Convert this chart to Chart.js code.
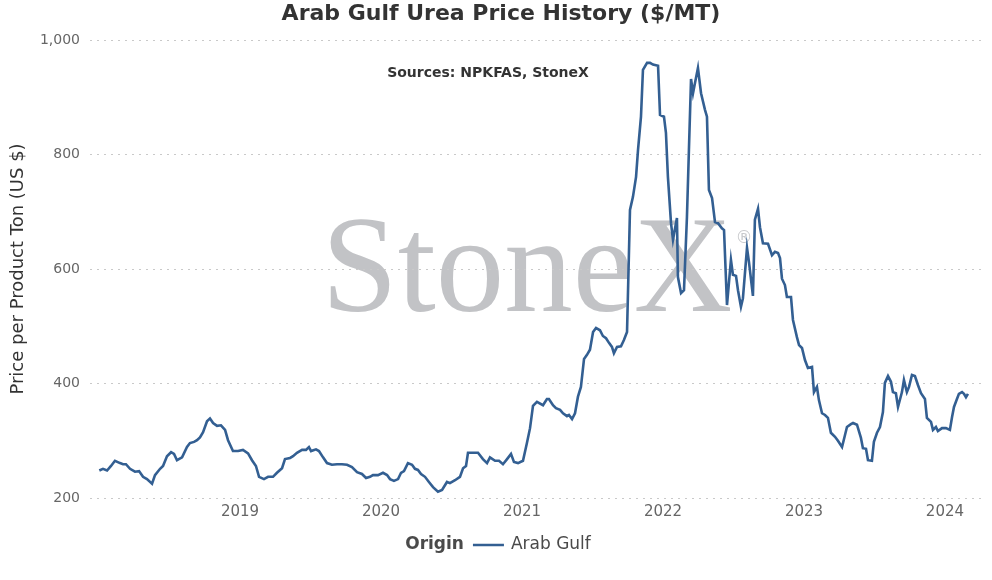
<!DOCTYPE html>
<html>
<head>
<meta charset="utf-8">
<script src="https://cdn.jsdelivr.net/npm/chart.js@4.4.1/dist/chart.umd.min.js"></script>
<style>
html,body{margin:0;padding:0;background:#fff;}
#wrap{width:992px;height:580px;position:relative;}
</style>
</head>
<body>
<div id="wrap"><canvas id="c" width="992" height="580" style="width:992px;height:580px"></canvas></div>
<script>
// Decimal-year dates of each observation
const dates = [
2018.002,2018.028,2018.057,2018.085,2018.113,2018.149,2018.170,2018.191,2018.220,2018.255,2018.284,2018.312,2018.340,2018.376,2018.397,2018.433,2018.454,2018.482,2018.511,2018.532,2018.553,2018.589,2018.624,2018.645,2018.674,2018.695,2018.716,2018.738,2018.766,2018.787,2018.809,2018.837,2018.865,2018.894,2018.915,2018.950,2018.986,
2019.021,2019.057,2019.085,2019.113,2019.135,2019.170,2019.199,2019.234,2019.262,2019.298,2019.319,2019.355,2019.376,2019.404,2019.440,2019.468,2019.489,2019.504,2019.539,2019.560,2019.589,2019.617,2019.652,2019.688,2019.723,2019.759,2019.794,2019.830,2019.865,2019.894,2019.922,2019.943,2019.979,
2020.014,2020.043,2020.064,2020.092,2020.121,2020.142,2020.163,2020.191,2020.220,2020.241,2020.262,2020.284,2020.312,2020.340,2020.369,2020.404,2020.433,2020.468,2020.489,2020.525,2020.560,2020.582,2020.603,2020.617,2020.652,2020.688,2020.723,2020.752,2020.773,2020.809,2020.837,2020.865,2020.894,2020.922,2020.943,2020.972,
2021.007,2021.035,2021.057,2021.078,2021.106,2021.149,2021.177,2021.191,2021.220,2021.241,2021.270,2021.291,2021.319,2021.333,2021.355,2021.376,2021.397,2021.418,2021.440,2021.461,2021.482,2021.504,2021.525,2021.553,2021.574,2021.596,2021.617,2021.638,2021.652,2021.674,2021.702,2021.723,2021.745,2021.766,2021.787,2021.809,2021.823,2021.844,2021.858,2021.887,2021.908,2021.929,2021.965,2021.979,
2022.007,2022.021,2022.035,2022.057,2022.071,2022.099,2022.106,2022.128,2022.149,2022.170,2022.184,2022.199,2022.213,2022.227,2022.248,2022.270,2022.298,2022.312,2022.326,2022.348,2022.369,2022.390,2022.418,2022.433,2022.454,2022.482,2022.496,2022.518,2022.532,2022.553,2022.567,2022.596,2022.610,2022.638,2022.652,2022.674,2022.688,2022.709,2022.745,2022.773,2022.794,2022.816,2022.830,2022.844,2022.865,2022.879,2022.908,2022.922,2022.950,2022.965,2022.986,
2023.007,2023.028,2023.057,2023.071,2023.092,2023.106,2023.128,2023.149,2023.170,2023.191,2023.220,2023.241,2023.270,2023.291,2023.305,2023.333,2023.348,2023.376,2023.404,2023.418,2023.440,2023.454,2023.482,2023.496,2023.518,2023.539,2023.560,2023.574,2023.596,2023.617,2023.631,2023.652,2023.667,2023.695,2023.709,2023.730,2023.745,2023.766,2023.787,2023.809,2023.830,2023.858,2023.872,2023.901,2023.915,2023.936,2023.950,2023.979,
2024.007,2024.035,2024.050,2024.064,2024.085,2024.099,2024.121,2024.135,2024.149,2024.163
];
// Arab Gulf urea price, $/MT
const prices = [
248,251,248,256,265,261,259,259,251,246,247,237,233,225,240,251,256,273,280,277,266,271,289,296,298,301,306,315,334,339,331,326,327,319,301,282,282,
284,278,266,256,237,233,237,237,244,252,268,270,273,279,284,284,289,282,285,282,271,261,258,259,259,258,254,245,242,235,237,240,240,
244,240,233,230,233,244,247,261,258,251,249,242,237,228,219,211,214,228,226,231,237,252,256,279,279,279,268,261,271,265,265,259,268,277,263,261,
265,296,322,361,368,362,373,373,362,357,354,348,343,345,338,348,377,394,443,450,459,490,497,493,483,479,471,464,453,464,465,476,490,703,726,761,808,866,948,960,960,957,955,869,
866,838,761,680,651,689,586,558,563,691,808,932,907,925,951,907,878,866,738,724,682,680,671,668,537,616,590,588,563,534,549,637,612,553,686,705,673,645,644,624,630,628,619,583,572,551,551,511,481,467,462,
441,427,429,385,394,371,348,345,340,314,307,300,289,310,324,329,331,328,305,287,286,266,265,298,314,324,350,401,413,403,385,383,359,385,406,385,394,415,413,397,383,373,340,333,319,324,317,322,
322,319,341,359,373,382,385,382,376,382
];
const yearTicks = [2019, 2020, 2021, 2022, 2023, 2024];
const yTicks = [200, 400, 600, 800, 1000];
const seriesName = 'Arab Gulf';
const legendTitle = 'Origin';
const chartTitle = 'Arab Gulf Urea Price History ($/MT)';
const sourceText = 'Sources: NPKFAS, StoneX';
const yAxisTitle = 'Price per Product Ton (US $)';

const LINE = '#335f92';
const FONT = '"DejaVu Sans", Verdana, sans-serif';

const decor = {
  id: 'decor',
  beforeDraw(chart) {
    const ctx = chart.ctx;
    ctx.save();
    ctx.fillStyle = '#c2c3c6';
    ctx.font = '137px "Liberation Serif", "Times New Roman", serif';
    ctx.textAlign = 'center';
    ctx.textBaseline = 'alphabetic';
    ctx.fillText('StoneX', 527, 311);
    ctx.font = '17px ' + FONT;
    ctx.fillStyle = '#c8c9cc';
    ctx.fillText('\u00AE', 744, 243);
    ctx.restore();
  },
  afterDraw(chart) {
    const ctx = chart.ctx;
    ctx.save();
    ctx.fillStyle = '#333333';
    ctx.textAlign = 'center';
    ctx.textBaseline = 'middle';
    ctx.font = 'bold 22px ' + FONT;
    ctx.fillText(chartTitle, 501, 14);
    ctx.font = 'bold 14px ' + FONT;
    ctx.fillText(sourceText, 488, 73);
    // legend
    const ly = 545;
    ctx.textAlign = 'left';
    ctx.font = 'bold 17px ' + FONT;
    const w1 = ctx.measureText(legendTitle).width;
    ctx.font = '17px ' + FONT;
    const w2 = ctx.measureText(seriesName).width;
    const gap1 = 9, lineW = 31, gap2 = 7;
    const total = w1 + gap1 + lineW + gap2 + w2;
    let x = 498 - total / 2;
    ctx.fillStyle = '#4a4a4a';
    ctx.font = 'bold 17px ' + FONT;
    ctx.fillText(legendTitle, x, ly);
    x += w1 + gap1;
    ctx.strokeStyle = LINE;
    ctx.lineWidth = 2.5;
    ctx.beginPath();
    ctx.moveTo(x, ly);
    ctx.lineTo(x + lineW, ly);
    ctx.stroke();
    x += lineW + gap2;
    ctx.font = '17px ' + FONT;
    ctx.fillStyle = '#4a4a4a';
    ctx.fillText(seriesName, x, ly);
    ctx.restore();
  }
};

Chart.defaults.font.family = FONT;

new Chart(document.getElementById('c'), {
  type: 'line',
  data: {
    datasets: [{
      label: seriesName,
      data: dates.map((d, i) => ({ x: d, y: prices[i] })),
      borderColor: LINE,
      backgroundColor: LINE,
      borderWidth: 2.6,
      pointRadius: 0,
      tension: 0,
      fill: false
    }]
  },
  options: {
    responsive: false,
    animation: false,
    devicePixelRatio: 1,
    layout: { padding: { top: 40, right: 7, bottom: 52, left: 0 } },
    plugins: {
      legend: { display: false },
      title: { display: false },
      tooltip: { enabled: false }
    },
    scales: {
      x: {
        type: 'linear',
        min: 2017.936,
        max: 2024.284,
        afterBuildTicks(scale) { scale.ticks = yearTicks.map(v => ({ value: v })); },
        afterFit(scale) { scale.height = 30; },
        grid: { display: false, drawTicks: false },
        border: { display: false },
        ticks: {
          padding: 5,
          color: '#666666',
          font: { size: 15 },
          callback: v => String(v)
        }
      },
      y: {
        min: 200,
        max: 1000,
        afterBuildTicks(scale) { scale.ticks = yTicks.map(v => ({ value: v })); },
        afterFit(scale) { scale.width = 90; },
        grid: { color: '#c9c9c9', lineWidth: 1, drawTicks: false },
        border: { display: false, dash: [2, 5] },
        ticks: {
          padding: 10,
          color: '#666666',
          font: { size: 14 },
          callback: v => v.toLocaleString('en-US')
        },
        title: {
          display: true,
          text: yAxisTitle,
          color: '#333333',
          font: { size: 18 },
          padding: { top: 8, bottom: 0 }
        }
      }
    }
  },
  plugins: [decor]
});
</script>
</body>
</html>
